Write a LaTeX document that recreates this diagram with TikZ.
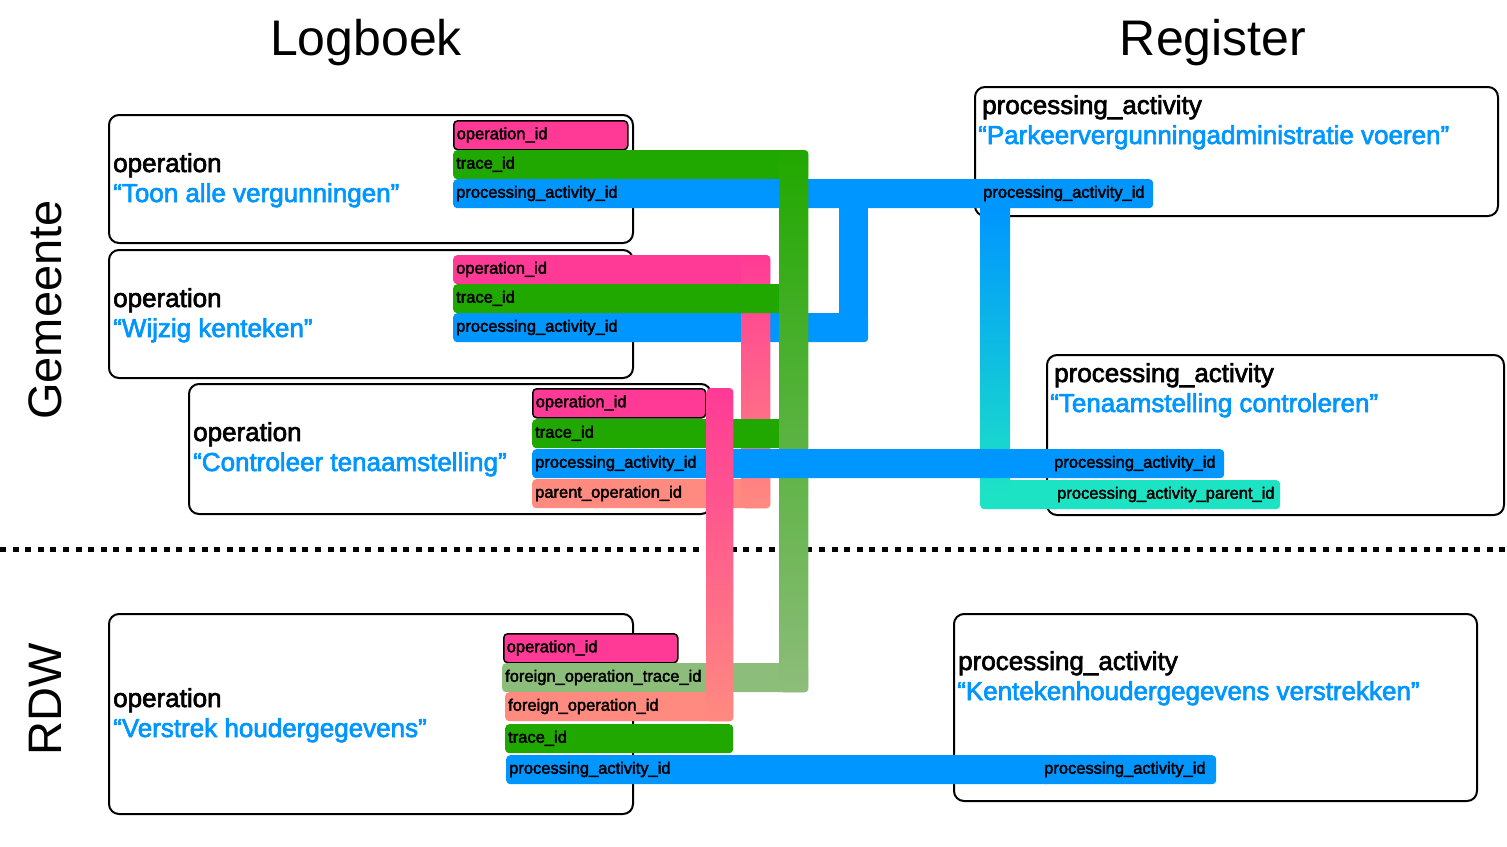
\documentclass[tikz,border=0pt]{standalone}
\usepackage{fontspec}
\setmainfont{Liberation Sans}
\newfontfamily\middel{Liberation Sans}[FakeBold=2.5]
\definecolor{roze}{RGB}{255,58,150}
\definecolor{groen}{RGB}{33,168,0}
\definecolor{lichtgroen}{RGB}{141,189,122}
\definecolor{blauw}{RGB}{0,150,255}
\definecolor{zalm}{RGB}{255,138,128}
\definecolor{turkoois}{RGB}{29,227,197}

\begin{document}
\begin{tikzpicture}[x=1pt, y=-1pt,
  kader/.style={draw=black, line width=2pt, fill=white, rounded corners=10pt, anchor=north west, inner sep=0pt},
  naam/.style={anchor=base west, inner sep=0pt, font=\middel\fontsize{26}{30}\selectfont},
  omschrijving/.style={naam, text=blauw},
  veld/.style={anchor=north west, rounded corners=4pt, inner xsep=3pt, inner ysep=0pt, minimum height=29pt,
    text height=12pt, text depth=4pt, align=left, font=\middel\fontsize{16.5}{19}\selectfont},
  sleutel/.style={veld, fill=roze, draw=black, line width=1.5pt},
  kop/.style={anchor=base, inner sep=0pt, font=\fontsize{50}{60}\selectfont},
  zijkop/.style={kop, rotate=90, font=\fontsize{47}{56}\selectfont}]

  \useasboundingbox (0,0) rectangle (1507,846);

  % Koppen
  \node[kop] (logboek) at (366,55) {Logboek};
  \node[kop] (register) at (1213,55) {Register};
  \node[zijkop] (gemeente) at (61,310) {Gemeente};
  \node[zijkop] (rdw) at (61,699) {RDW};

  % Scheiding Gemeente / RDW
  \draw[line width=5pt, dash pattern=on 6pt off 6.6pt] (0,549.5) -- (1507,549.5);

  % Kaders logboek
  \node[kader, minimum width=524pt, minimum height=128pt] (log1) at (108,114) {};
  \node[kader, minimum width=524pt, minimum height=128pt] (log2) at (108,249) {};
  \node[kader, minimum width=522pt, minimum height=130pt] (log3) at (188,383) {};
  \node[kader, minimum width=524pt, minimum height=200pt] (log4) at (108,613) {};

  % Kaders register
  \node[kader, minimum width=523pt, minimum height=129pt] (reg1) at (974,86) {};
  \node[kader, minimum width=457pt, minimum height=160pt] (reg2) at (1046,354) {};
  \node[kader, minimum width=523pt, minimum height=187pt] (reg3) at (953,613) {};

  % Teksten in de kaders
  \node[naam] (log1naam) at (113,172) {operation};
  \node[omschrijving] (log1oms) at (113,202) {“Toon alle vergunningen”};
  \node[naam] (log2naam) at (113,307) {operation};
  \node[omschrijving] (log2oms) at (113,337) {“Wijzig kenteken”};
  \node[naam] (log3naam) at (193,441) {operation};
  \node[omschrijving] (log3oms) at (193,471) {“Controleer tenaamstelling”};
  \node[naam] (log4naam) at (113,707) {operation};
  \node[omschrijving] (log4oms) at (113,737) {“Verstrek houdergegevens”};
  \node[naam] (reg1naam) at (982,114) {processing\_activity};
  \node[omschrijving] (reg1oms) at (978,144) {“Parkeervergunningadministratie voeren”};
  \node[naam] (reg2naam) at (1054,382) {processing\_activity};
  \node[omschrijving] (reg2oms) at (1050,412) {“Tenaamstelling controleren”};
  \node[naam] (reg3naam) at (958,670) {processing\_activity};
  \node[omschrijving] (reg3oms) at (957,700) {“Kentekenhoudergegevens verstrekken”};

  % Velden operation 1
  \node[sleutel, text width=168pt] (op1) at (453,120) {operation\_id};
  \node[veld, fill=groen, text width=349pt] (tr1) at (453,150) {trace\_id};
  \node[veld, fill=blauw, text width=541pt] (pa1) at (453,179) {processing\_activity\_id};
  \node[veld, fill=blauw, text width=167pt] (rpa1) at (980,179) {processing\_activity\_id};

  % Velden operation 2
  \node[veld, fill=roze, text width=311pt] (op2) at (453,255) {operation\_id};
  \node[veld, fill=blauw, text width=409pt] (pa2) at (453,313) {processing\_activity\_id};
  \fill[blauw] ([xshift=-29pt]pa2.east) rectangle (pa2.east |- pa1.center);

  % parent_operation_id naar operation_id
  \node[veld, fill=zalm, text width=232pt] (par3) at (532,479) {parent\_operation\_id};
  \shade[top color=roze, bottom color=zalm, rounded corners=4pt]
    ([xshift=-29pt]op2.north east) rectangle (par3.south east);

  \node[veld, fill=groen, text width=326pt] (tr2) at (453,284) {trace\_id};

  % Velden operation 3
  \node[sleutel, text width=167pt] (op3) at (532,388) {operation\_id};
  \node[veld, fill=groen, text width=247pt] (tr3) at (532,419) {trace\_id};

  % Register: parent van processing activity
  \node[veld, fill=turkoois, text width=294pt] (rppa2) at (980,480) {\hspace*{74pt}processing\_activity\_parent\_id};
  \shade[top color=blauw, bottom color=turkoois]
    (rpa1.south west) rectangle ([xshift=30pt]rppa2.west);

  % Velden operation RDW
  \node[sleutel, text width=168pt] (op4) at (503,633) {operation\_id};
  \node[veld, fill=lichtgroen, text width=300pt] (fotr4) at (502,663) {foreign\_operation\_trace\_id};
  \node[veld, fill=zalm, text width=222pt] (fop4) at (505,692) {foreign\_operation\_id};
  \node[veld, fill=groen, text width=222pt] (tr4) at (505,724) {trace\_id};
  \node[veld, fill=blauw, text width=538pt] (pa4) at (506,755) {processing\_activity\_id};
  \node[veld, fill=blauw, text width=169pt] (rpa3) at (1041,755) {processing\_activity\_id};

  % trace_id naar foreign_operation_trace_id
  \shade[top color=groen, bottom color=lichtgroen, rounded corners=4pt]
    ([xshift=-29pt]tr1.north east) rectangle (fotr4.south east);

  % processing_activity_id operation 3
  \node[veld, fill=blauw, text width=522pt] (pa3) at (532,449) {processing\_activity\_id};
  \node[veld, fill=blauw, text width=167pt] (rpa2) at (1051,449) {processing\_activity\_id};

  % operation_id naar foreign_operation_id
  \shade[top color=roze, bottom color=zalm, rounded corners=4pt]
    (op3.north east) rectangle (fop4.south east);

\end{tikzpicture}
\end{document}
